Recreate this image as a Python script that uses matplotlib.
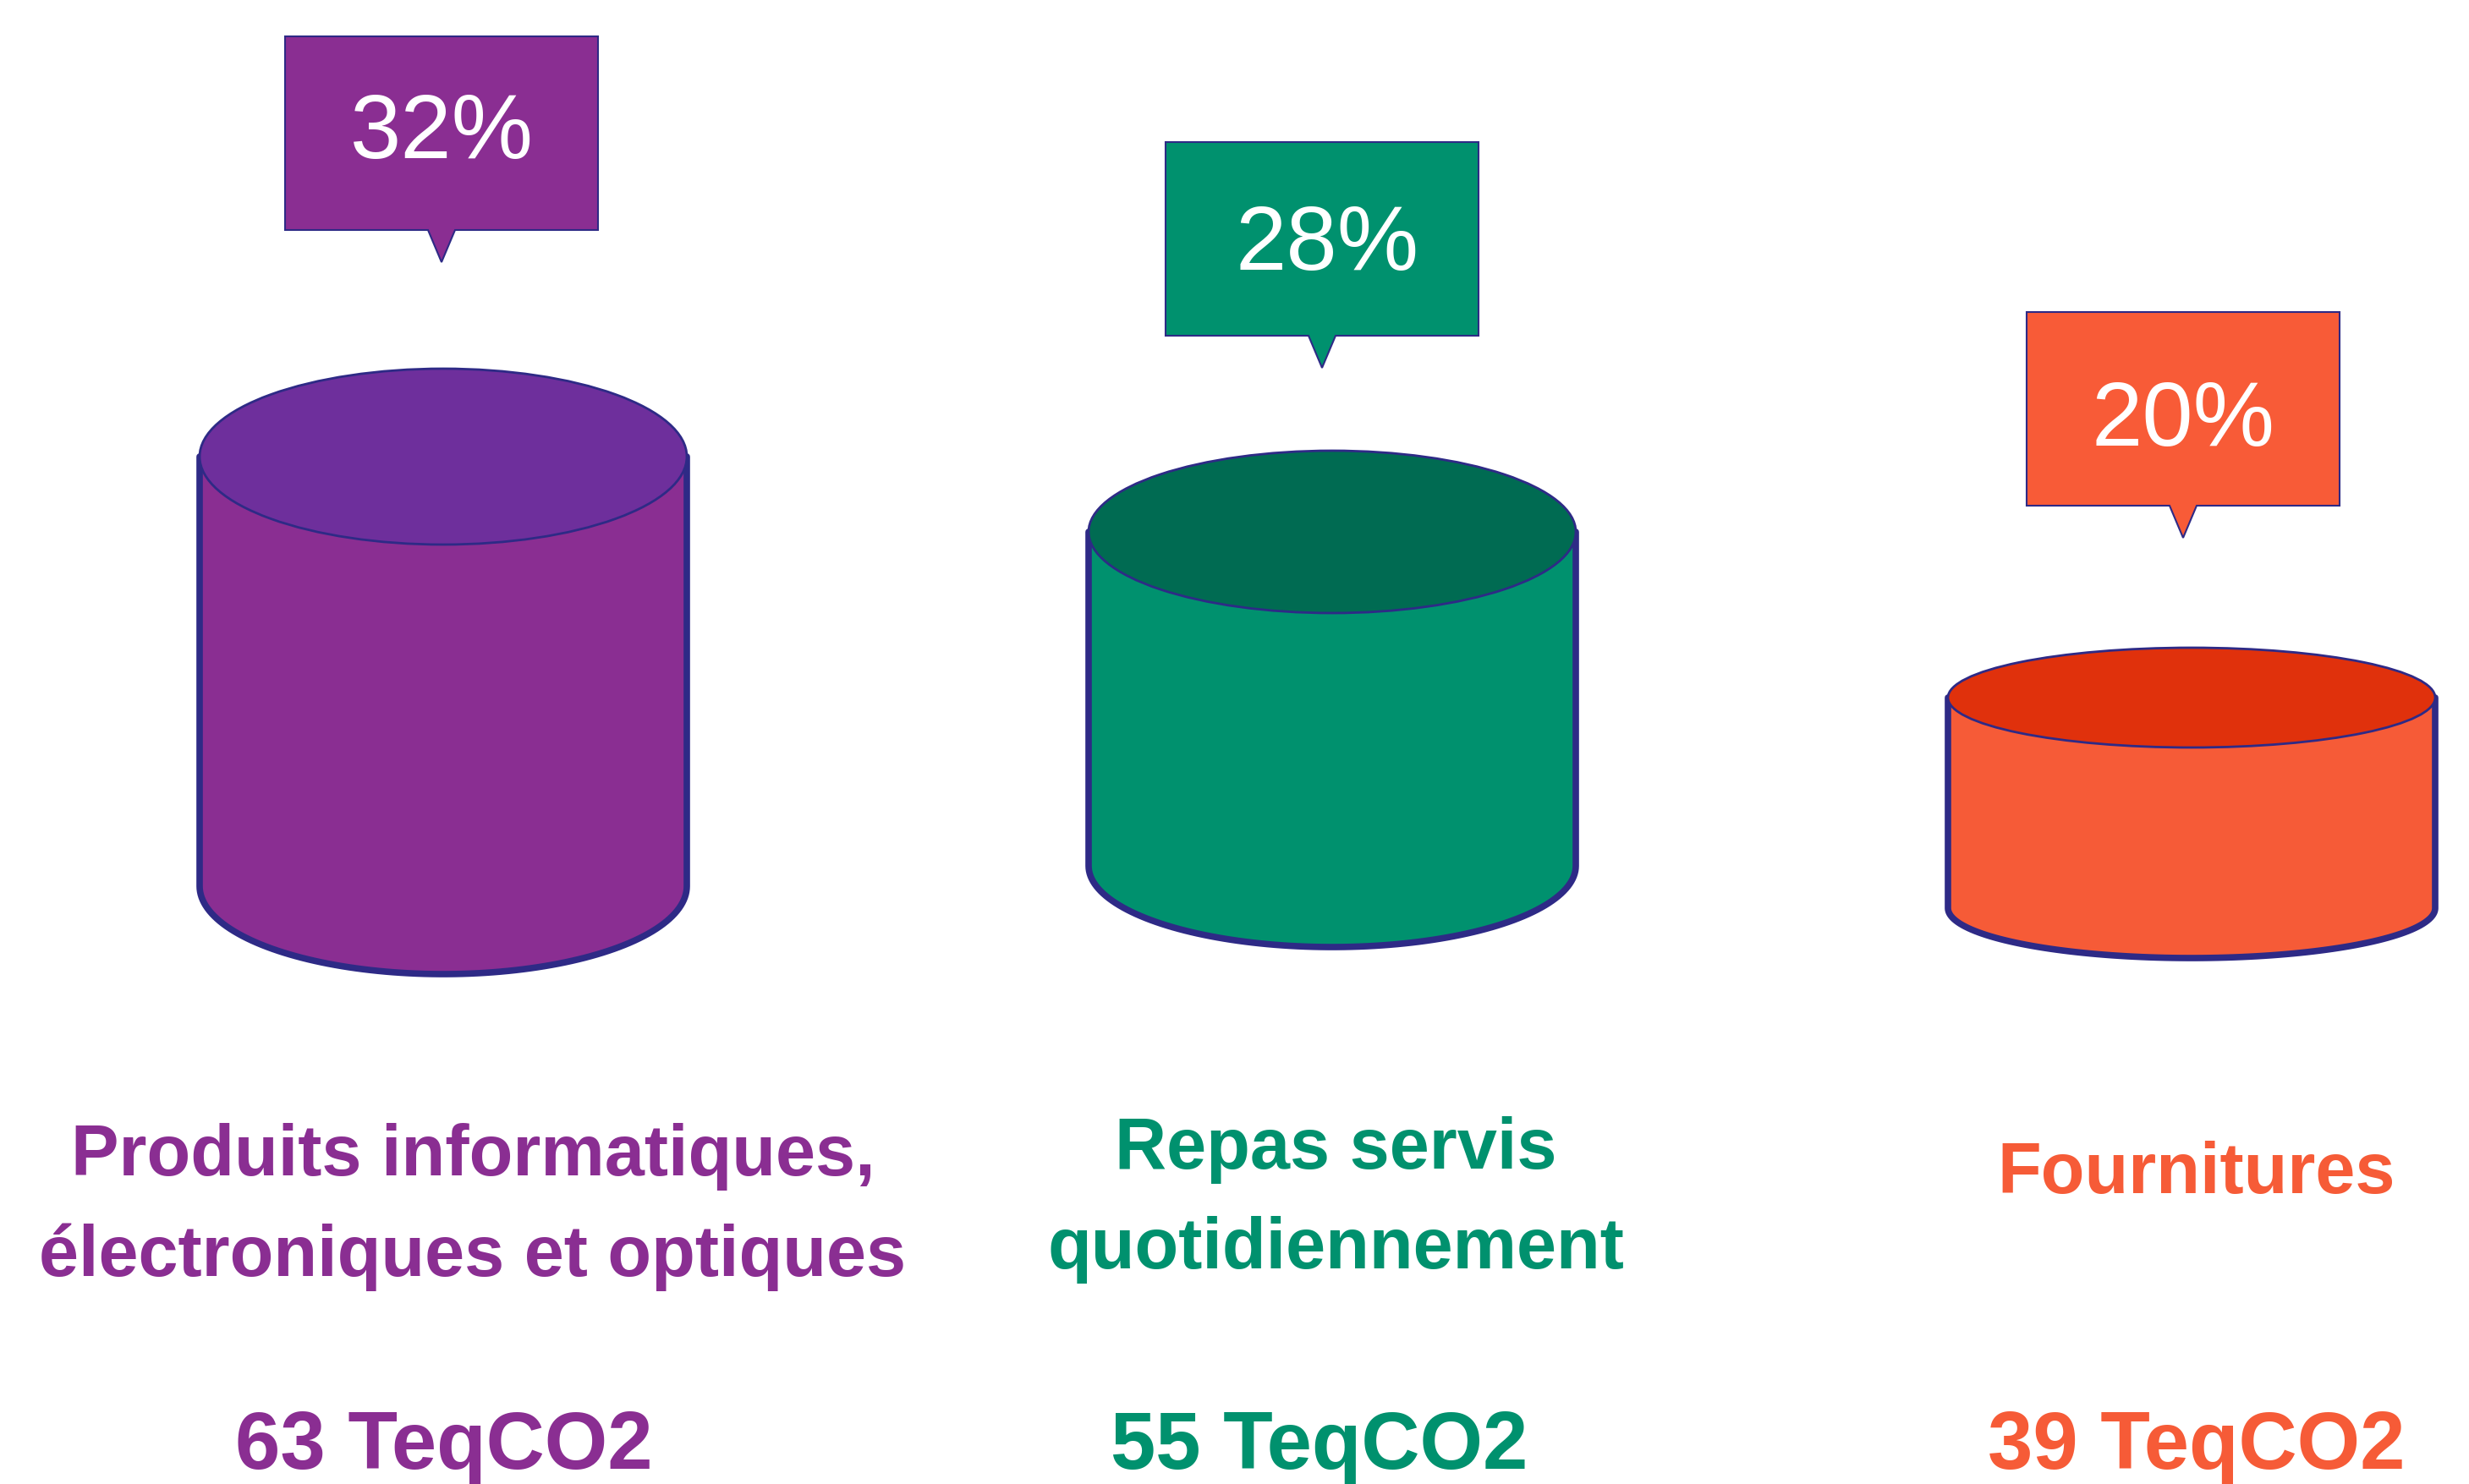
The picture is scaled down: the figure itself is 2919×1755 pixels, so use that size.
import matplotlib
matplotlib.use("Agg")
import matplotlib.pyplot as plt
from matplotlib.patches import Ellipse, Polygon
import numpy as np

# ---------------- data ----------------
categories = [["Produits informatiques,", "électroniques et optiques"],
              ["Repas servis", "quotidiennement"],
              ["Fournitures"]]
emissions = [63, 55, 39]          # TeqCO2
shares = [32, 28, 20]             # %
cyl_height = [508, 395, 249]      # visual cylinder heights (px)

# ---------------- styles / layout ----------------
side_colors = ["#8A2E92", "#00916E", "#F65B37"]
top_colors = ["#6E2F9C", "#006B52", "#E0310C"]
text_colors = ["#8A2E92", "#00916E", "#F65B37"]
box_colors = ["#8A2E92", "#00916E", "#F85B37"]
outline = "#2E2A86"

cx = [524, 1575, 2591]
rx = 288
bottom_y = [1048, 1024, 1074]
ry = [104, 96, 59]
box_x0 = [337, 1378, 2396]
box_y0 = [43, 168, 369]
box_w, box_h = 370, 229
ptr_h, ptr_hw = 38, 16
pct_baseline = [144, 151, 158]     # offset of percentage baseline from box top
pct_dx = [0, 6, 0]
label_x = [559, 1579, 2597]
label_base = [[1390, 1509], [1382, 1500], [1411]]
value_x = [525, 1560, 2597]
value_base = 1737

W, H = 2919, 1755
fig = plt.figure(figsize=(W / 100, H / 100), dpi=100)
ax = fig.add_axes([0, 0, 1, 1])
ax.set_xlim(0, W)
ax.set_ylim(H, 0)
ax.axis("off")

font = "Liberation Sans"

for i in range(3):
    c = cx[i]
    yb = bottom_y[i]
    yt = yb - cyl_height[i]
    r = ry[i]
    # side body: left line down, bottom half ellipse, right line up
    t = np.linspace(np.pi, 0, 100)
    arc_x = c + rx * np.cos(t)
    arc_y = yb + r * np.sin(t)
    xs = np.concatenate([[c - rx], arc_x, [c + rx]])
    ys = np.concatenate([[yt], arc_y, [yt]])
    body = Polygon(np.column_stack([xs, ys]), closed=True, facecolor=side_colors[i],
                   edgecolor="none", zorder=2)
    ax.add_patch(body)
    ax.plot(xs, ys, color=outline, lw=5.5, solid_capstyle="round", zorder=3)
    # top ellipse
    top = Ellipse((c, yt), 2 * rx, 2 * r, facecolor=top_colors[i], edgecolor=outline,
                  lw=2, zorder=4)
    ax.add_patch(top)

    # callout box
    x0, y0 = box_x0[i], box_y0[i]
    bc = x0 + box_w / 2
    y1 = y0 + box_h
    verts = [(x0, y0), (x0 + box_w, y0), (x0 + box_w, y1), (bc + ptr_hw, y1),
             (bc, y1 + ptr_h), (bc - ptr_hw, y1), (x0, y1)]
    callout = Polygon(verts, closed=True, facecolor=box_colors[i], edgecolor=outline,
                      lw=1.5, zorder=5)
    ax.add_patch(callout)
    ax.text(bc + pct_dx[i], y0 + pct_baseline[i], f"{shares[i]}%", color="white",
            fontsize=78, family=font, ha="center", va="baseline", zorder=6)

    # category labels
    for line, ly in zip(categories[i], label_base[i]):
        ax.text(label_x[i], ly, line, color=text_colors[i], fontsize=61, family=font,
                fontweight="bold", ha="center", va="baseline")
    ax.text(value_x[i], value_base, f"{emissions[i]} TeqCO2", color=text_colors[i],
            fontsize=69, family=font, fontweight="bold", ha="center", va="baseline")

fig.savefig("out.png", dpi=100, facecolor="white")
